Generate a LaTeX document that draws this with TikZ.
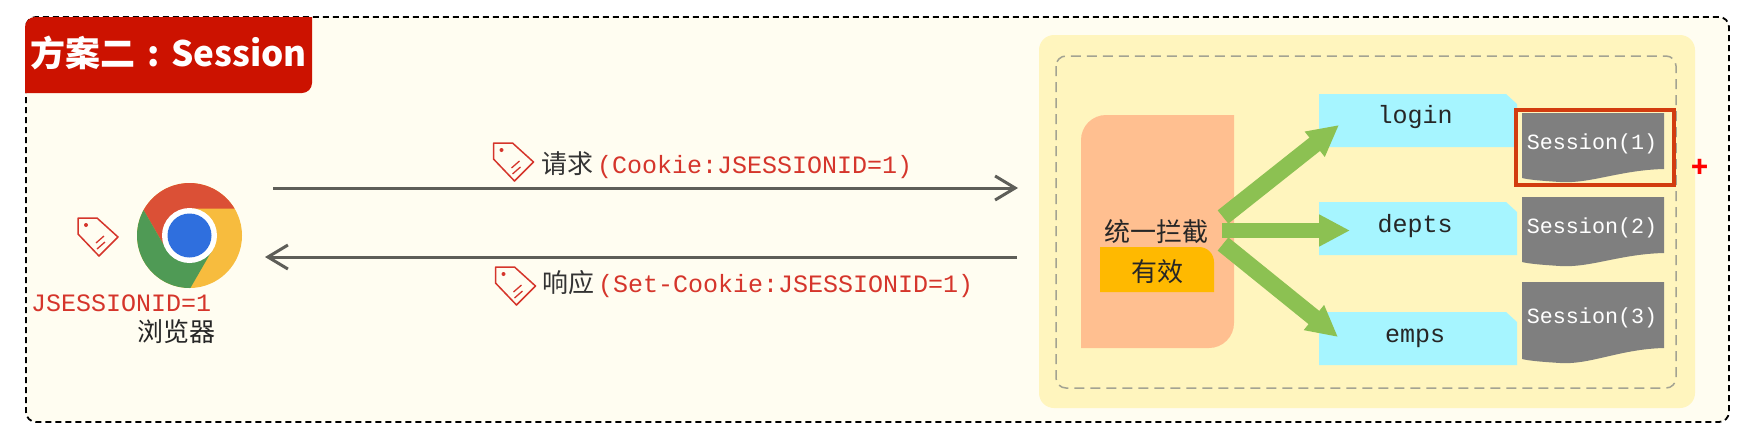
\documentclass[tikz,border=0pt]{standalone}
\usepackage{fontspec}
\setmainfont{Noto Sans CJK SC}
\setmonofont{Liberation Mono}
\usetikzlibrary{arrows.meta}

\definecolor{bgcream}{HTML}{FFFDF1}
\definecolor{titlered}{HTML}{CC1200}
\definecolor{labelred}{HTML}{D5352B}
\definecolor{framered}{HTML}{D23C0F}
\definecolor{arrowgray}{HTML}{5E5E58}
\definecolor{paleyellow}{HTML}{FFF5BE}
\definecolor{dashgray}{HTML}{A3A392}
\definecolor{peach}{HTML}{FFBF90}
\definecolor{gold}{HTML}{FFB900}
\definecolor{skyblue}{HTML}{A6F5FF}
\definecolor{leafgreen}{HTML}{8CC152}
\definecolor{sheetgray}{HTML}{7F7F7F}
\definecolor{chromered}{HTML}{DB5036}
\definecolor{chromegreen}{HTML}{4F9A55}
\definecolor{chromeyellow}{HTML}{F7BC3E}
\definecolor{chromeblue}{HTML}{2F6FDE}

\newcommand{\cn}{\fontsize{26pt}{30pt}\selectfont}
\newcommand{\code}[1]{{\ttfamily\fontsize{25pt}{30pt}\selectfont\color{labelred}#1}}

\tikzset{
	x=1pt, y=-1pt,
	label text/.style={anchor=base west, inner sep=0pt, text=black!80, font=\cn},
	center text/.style={anchor=base, inner sep=0pt, text=black!85, font=\cn},
	api text/.style={anchor=base, inner sep=0pt, text=black!85, font=\ttfamily\fontsize{25pt}{30pt}\selectfont},
	sheet text/.style={anchor=base, inner sep=0pt, text=white, font=\ttfamily\fontsize{21.7pt}{26pt}\selectfont},
	talk arrow/.style={draw=arrowgray, line width=3pt, -{Straight Barb[length=20pt,width=24pt,line width=3pt]}},
	fork arrow/.style={draw=leafgreen, line width=15pt, -{Triangle[length=31pt,width=30pt]}},
	pics/tagicon/.style={code={
		\draw[labelred, line width=1.5pt, line join=round] (-20,-19) -- (-1,-19) -- (20,0) -- (1,19) -- (-20,-3) -- cycle;
		\fill[labelred] (-12,-12) circle[radius=2];
		\draw[labelred, line width=1.3pt] (-2,6) -- (6,-1);
		\draw[labelred, line width=1.3pt] (-1,12) -- (7,5);
	}},
}

\begin{document}
\begin{tikzpicture}
	\useasboundingbox (0,0) rectangle (1757,440);
	% Outer frame and title
	\draw[fill=bgcream, dashed, dash pattern=on 6pt off 4pt, line width=1.8pt, rounded corners=10pt] (26,17) rectangle (1729,422);
	\fill[titlered] (25,93) [rounded corners=10pt] -- (25,17) [sharp corners] -- (312,17) [rounded corners=10pt] -- (312,93) [sharp corners] -- cycle;
	\node[anchor=base west, inner sep=0pt, text=white, font=\fontsize{35pt}{40pt}\selectfont\bfseries] (title) at (30,66) {方案二\hspace{12pt}:\hspace{12pt}Session};
	% Browser
	\node[circle, fill=chromeyellow, minimum size=105pt, inner sep=0pt] (chrome) at (189.5,235.5) {};
	\begin{scope}[shift={(189.5,235.5)}]
		\clip (0,0) circle[radius=52.5];
		\fill[chromered] (0,-27) -- (70,-27) -- (70,-70) -- (-70,-70) -- (-63.4,-55.8) -- (-23.4,13.5) -- (0,0) -- cycle;
		\fill[chromegreen] (0,0) -- (-23.4,13.5) -- (-63.4,-55.8) -- (-80,-55) -- (-80,85) -- (-16.6,82.8) -- (23.4,13.5) -- cycle;
		\fill[white] (0,0) circle[radius=27.5];
		\fill[chromeblue] (0,0) circle[radius=22];
	\end{scope}
	\pic at (98,237) {tagicon};
	\node[anchor=base west, inner sep=0pt] (cookie) at (31,311) {\code{JSESSIONID=1}};
	\node[center text] (browser) at (176.5,341) {浏览器};
	% Request and response
	\coordinate (reqstart) at (273,188);
	\coordinate (reqend) at (1018,188);
	\coordinate (respstart) at (1017,257);
	\coordinate (respend) at (265,257);
	\draw[talk arrow] (reqstart) -- (reqend);
	\draw[talk arrow] (respstart) -- (respend);
	\pic at (513.5,162) {tagicon};
	\node[label text] (req) at (541,173) {请求\hspace{4pt}\code{(Cookie:JSESSIONID=1)}};
	\pic at (515.5,286) {tagicon};
	\node[label text] (resp) at (542,292) {响应\hspace{4pt}\code{(Set-Cookie:JSESSIONID=1)}};
	% Server side
	\fill[paleyellow, rounded corners=15pt] (1039,35) rectangle (1695,408);
	\draw[dashgray, dashed, dash pattern=on 10pt off 6pt, line width=1.5pt, rounded corners=10pt] (1056,56) rectangle (1676,388);
	\fill[peach] (1081,348) [rounded corners=25pt] -- (1081,115) [sharp corners] -- (1234,115) [rounded corners=25pt] -- (1234,348) [sharp corners] -- cycle;
	\fill[gold] (1100,292) -- (1100,247) [rounded corners=15pt] -- (1214,247) [sharp corners] -- (1214,292) -- cycle;
	\node[center text] (filter) at (1156,241) {统一拦截};
	\node[center text] (valid) at (1157,281) {有效};
	% Resources
	\fill[skyblue] (1319,94) -- (1506,94) -- (1517,104) -- (1517,147) -- (1319,147) -- cycle;
	\fill[skyblue] (1319,202) -- (1506,202) -- (1517,212) -- (1517,255) -- (1319,255) -- cycle;
	\fill[skyblue] (1319,312) -- (1506,312) -- (1517,322) -- (1517,365) -- (1319,365) -- cycle;
	\node[api text] (login) at (1415,123) {login};
	\node[api text] (depts) at (1415,232) {depts};
	\node[api text] (emps) at (1415,342) {emps};
	% Forked arrows
	\coordinate (forkup) at (1223,217);
	\coordinate (forkmid) at (1222,230.5);
	\coordinate (forkdown) at (1223,244);
	\coordinate (tiplogin) at (1339,125);
	\coordinate (tipdepts) at (1350,230.5);
	\coordinate (tipemps) at (1338,337);
	\draw[fork arrow, line width=17pt] (forkup) -- (tiplogin);
	\draw[fork arrow] (forkmid) -- (tipdepts);
	\draw[fork arrow, line width=17pt] (forkdown) -- (tipemps);
	% Sessions
	\draw[draw=framered, fill=paleyellow, line width=3.5pt] (1516,110) rectangle (1674,185);
	\fill[sheetgray] (1522,113) -- (1664,113) -- (1664,169) .. controls (1620,170) and (1590,184) .. (1560,182) .. controls (1545,181) and (1530,180) .. (1522,178) -- cycle;
	\fill[sheetgray] (1522,197) -- (1664,197) -- (1664,253) .. controls (1620,254) and (1590,268) .. (1560,266) .. controls (1545,265) and (1530,264) .. (1522,262) -- cycle;
	\fill[sheetgray] (1522,282) -- (1664,282) -- (1664,348) .. controls (1620,349) and (1590,365) .. (1560,363) .. controls (1545,362) and (1530,361) .. (1522,359) -- cycle;
	\node[sheet text] (sess1) at (1592,149) {Session(1)};
	\node[sheet text] (sess2) at (1592,233) {Session(2)};
	\node[sheet text] (sess3) at (1592,323) {Session(3)};
	\node[anchor=center, inner sep=0pt, text=red, font=\fontsize{28pt}{30pt}\selectfont\bfseries] (plus) at (1700,168) {+};
\end{tikzpicture}
\end{document}
